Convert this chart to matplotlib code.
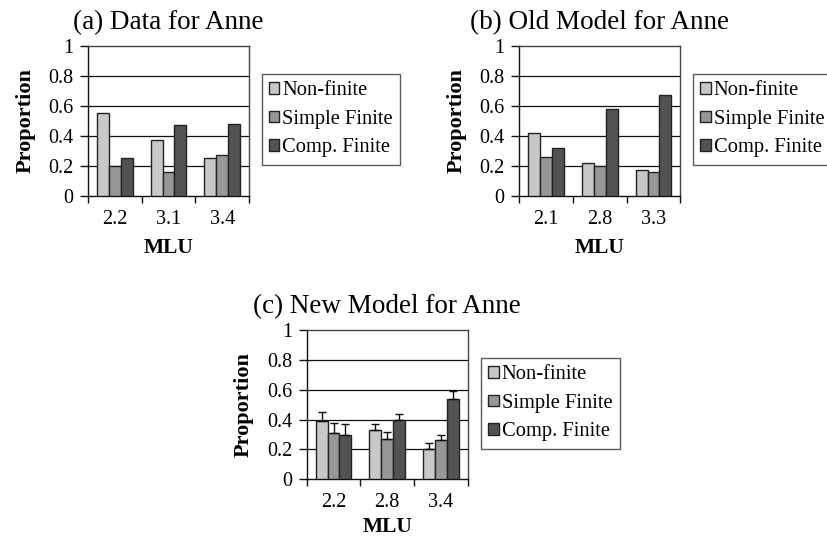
import matplotlib
matplotlib.use("Agg")
import matplotlib.pyplot as plt
import numpy as np

plt.rcParams['font.family'] = ['Liberation Serif', 'DejaVu Serif']

series_names = ["Non-finite", "Simple Finite", "Comp. Finite"]
series_colors = ["#c8c8c8", "#979797", "#535353"]
ytick_vals = [0, 0.2, 0.4, 0.6, 0.8, 1.0]
ytick_labels = ["0", "0.2", "0.4", "0.6", "0.8", "1"]

# (a) Data for Anne
a_title = "(a) Data for Anne"
a_mlu = ["2.2", "3.1", "3.4"]
a_nonfinite = [0.55, 0.37, 0.25]
a_simple = [0.20, 0.16, 0.27]
a_comp = [0.25, 0.47, 0.48]

# (b) Old Model for Anne
b_title = "(b) Old Model for Anne"
b_mlu = ["2.1", "2.8", "3.3"]
b_nonfinite = [0.42, 0.22, 0.17]
b_simple = [0.26, 0.20, 0.16]
b_comp = [0.32, 0.58, 0.67]

# (c) New Model for Anne
c_title = "(c) New Model for Anne"
c_mlu = ["2.2", "2.8", "3.4"]
c_nonfinite = [0.39, 0.33, 0.20]
c_simple = [0.31, 0.27, 0.26]
c_comp = [0.30, 0.40, 0.54]
c_nonfinite_err = [0.06, 0.04, 0.04]
c_simple_err = [0.07, 0.05, 0.04]
c_comp_err = [0.07, 0.04, 0.05]

fig = plt.figure(figsize=(8.28, 5.38), dpi=100)

W = 0.1944
H = 0.279
ax_a = fig.add_axes([0.1063, 0.6357, W, H])
ax_b = fig.add_axes([0.6272, 0.6357, W, H])
ax_c = fig.add_axes([0.3704, 0.1091, W, 0.2775])

bw = 0.22


def draw(ax, title, cats, series, errs=None, xlab_y=-0.28):
    x = np.arange(len(cats))
    handles = []
    for i, (vals, col) in enumerate(zip(series, series_colors)):
        kw = {}
        if errs is not None:
            kw = dict(yerr=[np.zeros(len(vals)), errs[i]], capsize=3.2,
                      error_kw=dict(elinewidth=1.0, capthick=1.0, ecolor="#111111"))
        b = ax.bar(x + (i - 1) * bw, vals, width=bw, color=col,
                   edgecolor="#222222", linewidth=1.0, zorder=3, **kw)
        handles.append(b)
    ax.set_xlim(-0.5, len(cats) - 0.5)
    ax.set_ylim(0, 1)
    ax.set_yticks(ytick_vals)
    ax.set_yticklabels(ytick_labels, fontsize=14.5)
    ax.set_xticks(x)
    ax.set_xticklabels(cats, fontsize=14.5)
    ax.set_xticks(np.arange(len(cats) + 1) - 0.5, minor=True)
    ax.tick_params(axis='x', which='major', length=0, pad=10)
    ax.tick_params(axis='x', which='minor', length=5, width=1, direction='out', color='#111111')
    ax.tick_params(axis='y', which='major', length=5.5, width=1, direction='out', pad=5, color='#111111')
    for yv in ytick_vals[1:-1]:
        ax.axhline(yv, color="#111111", linewidth=0.9, zorder=1)
    for s in ['left', 'bottom']:
        ax.spines[s].set_color('#111111')
        ax.spines[s].set_linewidth(1.0)
    for s in ['top', 'right']:
        ax.spines[s].set_color('#444444')
        ax.spines[s].set_linewidth(1.0)
    ax.set_title(title, fontsize=19.5, pad=12)
    ax.set_ylabel("Proportion", fontsize=16, fontweight='bold')
    ax.yaxis.set_label_coords(-0.327, 0.5)
    ax.set_xlabel("MLU", fontsize=15.5, fontweight='bold')
    ax.xaxis.set_label_coords(0.5, xlab_y)
    return handles


ha = draw(ax_a, a_title, a_mlu, [a_nonfinite, a_simple, a_comp])
hb = draw(ax_b, b_title, b_mlu, [b_nonfinite, b_simple, b_comp])
hc = draw(ax_c, c_title, c_mlu, [c_nonfinite, c_simple, c_comp],
          errs=[c_nonfinite_err, c_simple_err, c_comp_err], xlab_y=-0.255)


def legend(handles, x, y):
    leg = fig.legend(handles, series_names, loc='upper left', bbox_to_anchor=(x, y),
                     fontsize=14.8, frameon=True, fancybox=False, shadow=False,
                     handlelength=0.5, handleheight=0.5, handletextpad=0.15,
                     labelspacing=0.46, borderpad=0.36, borderaxespad=0.0)
    fr = leg.get_frame()
    fr.set_edgecolor('#333333')
    fr.set_linewidth(1.0)
    return leg


legend(ha, 0.316, 0.8625)
legend(hb, 0.837, 0.8625)
legend(hc, 0.581, 0.3346)

fig.savefig("out.png", dpi=100)
